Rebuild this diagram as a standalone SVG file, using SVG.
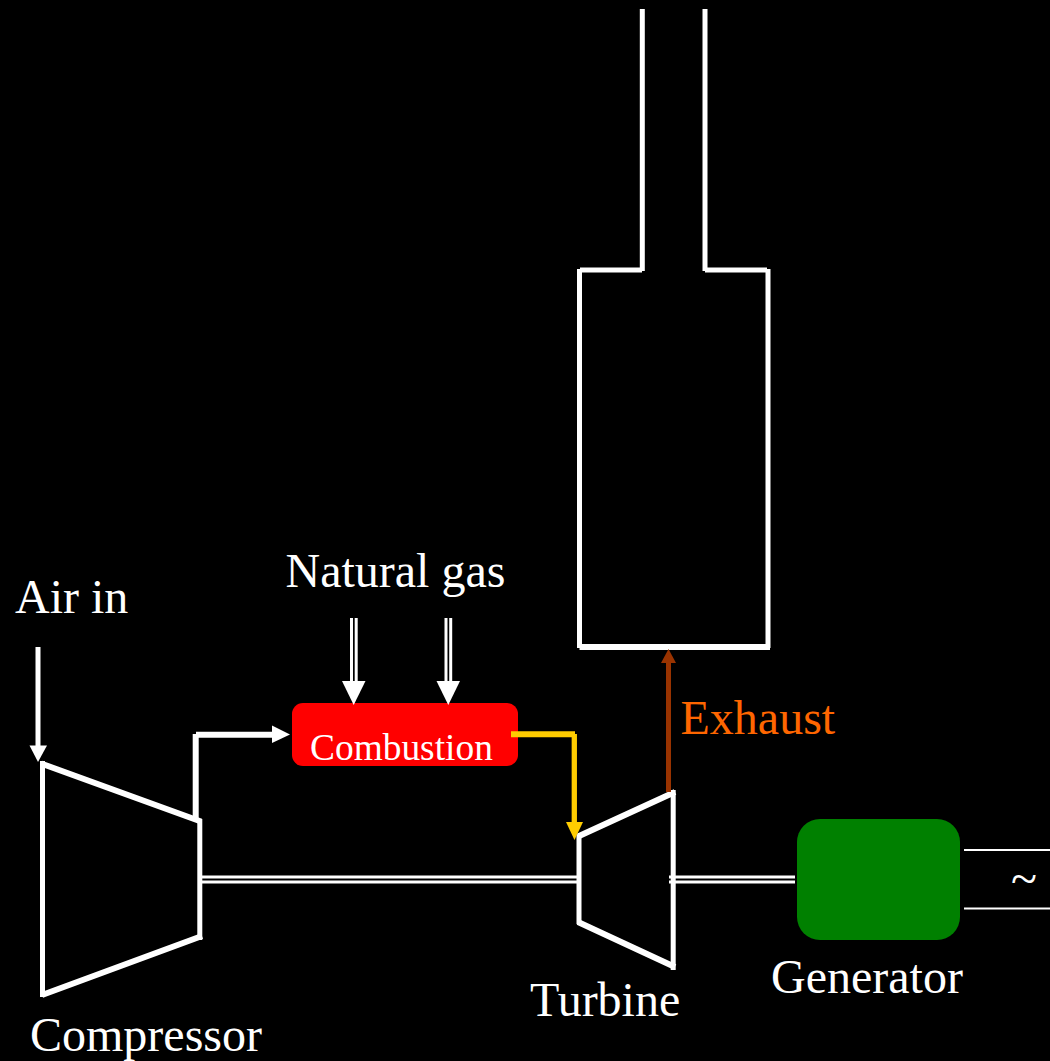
<svg xmlns="http://www.w3.org/2000/svg" width="1050" height="1061" viewBox="0 0 1050 1061">
<style>
.w{fill:none;stroke:#fff;stroke-width:5;stroke-linecap:butt;stroke-linejoin:miter}
.h{fill:none;stroke:#fff;stroke-width:6;stroke-linecap:butt}
.s{fill:none;stroke:#fff;stroke-width:3}
.t{font-family:"Liberation Serif","Times New Roman",serif;font-size:48px;fill:#fff}
</style>
<rect width="1050" height="1061" fill="#000"/>
<g id="stack"><path class="w" d="M642.300 9V271M705 9V271M579.500 269V648M768 269V648"/><path class="w" d="M580 270H642M705 270H767"/><path class="h" d="M579.500 647H770"/></g>
<g id="compressor"><path class="w" d="M42.500 761V997M199.800 819V940"/><path class="h" d="M41 763.500L201 821.500M202 936L42 995"/><text class="t" x="30" y="1051">Compressor</text></g>
<g id="combustion"><rect x="292" y="703" width="226" height="63" rx="11" fill="#f00"/><text class="t" x="310" y="760" style="font-size:37.4px">Combustion</text></g>
<g id="turbine"><path class="w" d="M579 835V924M673.200 790V970"/><path class="h" d="M578 836.500L675 792M578 922L675 967"/><text class="t" x="530" y="1016">Turbine</text></g>
<g id="generator"><rect x="797" y="819" width="163" height="121" rx="23" fill="#008000"/><text class="t" x="771" y="993">Generator</text></g>
<g id="air-in-label"><text class="t" x="15" y="613">Air in</text></g>
<g id="natural-gas-label"><text class="t" x="285.500" y="587">Natural gas</text></g>
<g id="exhaust-label"><text class="t" x="680.500" y="734" style="fill:#f60">Exhaust</text></g>
<g id="ac-output"><text class="t" x="1011" y="895">~</text></g>
<g id="connectors">
<path class="w" d="M38 647V748"/><path d="M29.500 745.500H47L38 762Z" fill="#fff"/>
<path class="h" d="M195.700 819V734"/><path class="h" d="M196 734.700H274"/><path d="M272 725.500L290 734.500L272 743Z" fill="#fff"/>
<path class="s" d="M351.500 618V684M356.200 618V684M446 618V684M450.700 618V684"/>
<path d="M342 681H365.500L353.700 705Z" fill="#fff"/><path d="M436.500 681H460L448.300 705Z" fill="#fff"/>
<path d="M511 734.300H575" fill="none" stroke="#fc0" stroke-width="6"/><path d="M574.300 734V824" fill="none" stroke="#fc0" stroke-width="5.300"/><path d="M566 822H583L574.500 840Z" fill="#fc0"/>
<path d="M668.500 792V660" fill="none" stroke="#930" stroke-width="5"/><path d="M661 663H676L668.500 649Z" fill="#930"/>
<path class="s" d="M201 877H577M201 882H577M669 877H795M669 882H795" stroke-width="2.600"/>
<path class="s" d="M964 850H1050M964 908.500H1050" style="stroke-width:2"/>
</g>
</svg>
